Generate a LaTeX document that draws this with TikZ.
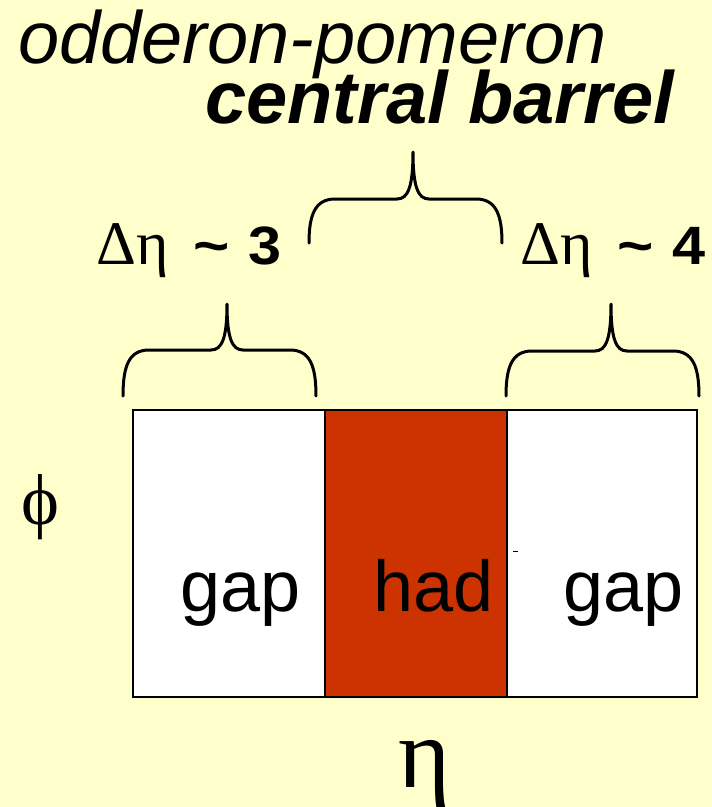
\documentclass[tikz,border=0pt]{standalone}
\usepackage{fontspec}
\setmainfont{Liberation Sans}
\newfontfamily\greekfont{Liberation Serif}
\definecolor{paper}{HTML}{FFFFCC}
\definecolor{hadred}{HTML}{CC3300}
\tikzset{
  cell/.style={draw=black, line width=2.5pt, minimum width=182pt, minimum height=287pt, inner sep=0pt, outer sep=0pt},
  bracestyle/.style={line width=3pt, line cap=round, line join=round},
  title/.style={anchor=base west, inner sep=0pt, font=\fontsize{74}{74}\selectfont},
  gaplabel/.style={anchor=base west, inner sep=0pt, font=\fontsize{54}{54}\selectfont},
  celltext/.style={anchor=base west, inner sep=0pt, font=\fontsize{72}{72}\selectfont},
}
% curly brace opening downwards: left x, right x, tip x, end y, bar y, tip y
\newcommand\curlybrace[6]{%
  \draw[bracestyle] (#1,#4) .. controls (#1,#5+16) and (#1+6,#5) .. (#1+26,#5)
    -- (#3-16,#5) .. controls (#3-5,#5) and (#3,#5-12) .. (#3,#6)
    .. controls (#3,#5-12) and (#3+5,#5) .. (#3+16,#5)
    -- (#2-26,#5) .. controls (#2-6,#5) and (#2,#5+16) .. (#2,#4);}
\newcommand\rapgap[1]{{\greekfont\fontsize{62}{62}\selectfont Δη}\hspace{25pt}\scalebox{1.15}[1]{\textbf{\textasciitilde}}\hspace{19pt}\scalebox{1.1}[1]{\textbf{#1}}}
\begin{document}
\begin{tikzpicture}[x=1pt, y=-1pt]
  \fill[paper] (0,0) rectangle (712,807);
  \useasboundingbox (0,0) rectangle (712,807);

  % titles
  \node[title] (t1) at (18,63) {\itshape odderon-pomeron};
  \node[title] (t2) at (205,123) {\bfseries\itshape central barrel};

  % rapidity intervals
  \node[gaplabel] (dl) at (96,264) {\rapgap{3}};
  \node[gaplabel] (dr) at (520,264) {\rapgap{4}};

  % braces
  \curlybrace{309}{502}{413}{243}{199}{152}
  \curlybrace{123}{316}{227}{396}{350}{304}
  \curlybrace{506}{699}{611}{396}{351}{304}

  % eta-phi plane
  \node[cell, fill=white, minimum width=192pt] (gapL) at (229,553.5) {};
  \node[cell, fill=hadred] (had) at (416,553.5) {};
  \node[cell, fill=white, minimum width=190pt] (gapR) at (602,553.5) {};
  \draw[line width=0.6pt] (513,551) -- (518,551);

  \node[celltext] (lgapL) at (180,611) {gap};
  \node[celltext] (lhad) at (373,611) {had};
  \node[celltext] (lgapR) at (563,611) {gap};

  % axes
  \node[anchor=base west, inner sep=0pt, font=\greekfont\fontsize{72}{72}\selectfont] (phi) at (21,524) {ϕ};
  \node[anchor=base west, inner sep=0pt, font=\greekfont\fontsize{100}{100}\selectfont] (eta) at (398,787) {η};
\end{tikzpicture}
\end{document}
